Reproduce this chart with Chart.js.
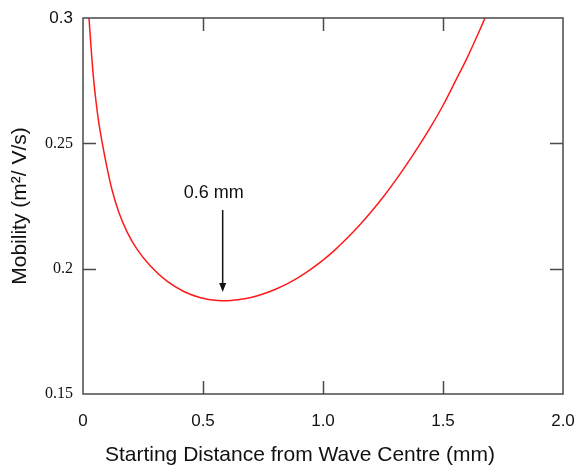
<!DOCTYPE html>
<html>
<head>
<meta charset="utf-8">
<script src="https://cdn.jsdelivr.net/npm/chart.js@4.4.0/dist/chart.umd.min.js"></script>
<style>
  html, body { margin: 0; padding: 0; background: #fff; }
</style>
</head>
<body>
<canvas id="chart" width="576" height="466"></canvas>
<script>
(function () {
  "use strict";

  // Starting distance (mm) vs mobility (m2/V/s)
  const distance = [0.025, 0.035, 0.045, 0.055, 0.065, 0.08, 0.1, 0.12, 0.15,
    0.185, 0.225, 0.28, 0.35, 0.42, 0.49, 0.56, 0.6, 0.65, 0.7, 0.75, 0.8,
    0.85, 0.9, 0.95, 1.0, 1.05, 1.1, 1.15, 1.2, 1.25, 1.3, 1.35, 1.4, 1.45,
    1.5, 1.55, 1.6, 1.65, 1.675];
  const mobility = [0.3000, 0.2863, 0.2748, 0.2660, 0.2588, 0.2503, 0.2403,
    0.2318, 0.2223, 0.2144, 0.2078, 0.2012, 0.1950, 0.1909, 0.1884, 0.1873,
    0.1872, 0.1877, 0.1885, 0.1899, 0.1917, 0.1939, 0.1966, 0.1998, 0.2034,
    0.2075, 0.2121, 0.2171, 0.2226, 0.2285, 0.2349, 0.2418, 0.2491, 0.2568,
    0.2651, 0.2745, 0.2840, 0.2945, 0.3000];

  const xTicks = [0, 0.5, 1.0, 1.5, 2.0];
  const yTicks = [0.15, 0.2, 0.25, 0.3];

  // annotation: minimum marker
  const minLabel = "0.6 mm";
  const minLabelAt = [0.545, 0.2302];
  const minArrowX = 0.582;
  const minArrowY = [0.2234, 0.1907];

  const xTitle = "Starting Distance from Wave Centre (mm)";
  const yTitle = "Mobility (m\u00B2/ V/s)";

  const SANS = "Arial, 'Liberation Sans', sans-serif";
  const SERIF = "'Times New Roman', 'Liberation Serif', serif";

  const frame = {
    id: "frame",
    afterDatasetsDraw(chart) {
      const ctx = chart.ctx;
      const a = chart.chartArea;
      const xs = chart.scales.x;
      const ys = chart.scales.y;
      const tl = 13;

      ctx.save();
      ctx.strokeStyle = "#4a4a4a";
      ctx.lineWidth = 1.5;
      ctx.strokeRect(a.left, a.top, a.right - a.left, a.bottom - a.top);

      ctx.beginPath();
      xTicks.slice(1, -1).forEach(function (v) {
        const px = Math.round(xs.getPixelForValue(v)) + 0.5;
        ctx.moveTo(px, a.bottom);
        ctx.lineTo(px, a.bottom - tl);
        ctx.moveTo(px, a.top);
        ctx.lineTo(px, a.top + tl);
      });
      yTicks.slice(1, -1).forEach(function (v) {
        const py = Math.round(ys.getPixelForValue(v)) + 0.5;
        ctx.moveTo(a.left, py);
        ctx.lineTo(a.left + tl, py);
        ctx.moveTo(a.right, py);
        ctx.lineTo(a.right - tl, py);
      });
      ctx.stroke();

      // arrow to the minimum
      const ax = xs.getPixelForValue(minArrowX);
      const ay0 = ys.getPixelForValue(minArrowY[0]);
      const ay1 = ys.getPixelForValue(minArrowY[1]);
      ctx.strokeStyle = "#111";
      ctx.fillStyle = "#111";
      ctx.lineWidth = 1.5;
      ctx.beginPath();
      ctx.moveTo(ax, ay0);
      ctx.lineTo(ax, ay1 - 6);
      ctx.stroke();
      ctx.beginPath();
      ctx.moveTo(ax - 3.5, ay1 - 9);
      ctx.lineTo(ax + 3.5, ay1 - 9);
      ctx.lineTo(ax, ay1);
      ctx.closePath();
      ctx.fill();

      ctx.font = "18px " + SANS;
      ctx.textAlign = "center";
      ctx.textBaseline = "middle";
      ctx.fillText(minLabel, xs.getPixelForValue(minLabelAt[0]), ys.getPixelForValue(minLabelAt[1]));

      // x axis title, centred a little left of the plot as in the figure
      ctx.font = "21px " + SANS;
      ctx.fillText(xTitle, 300, 455);
      ctx.restore();
    },
  };

  new Chart(document.getElementById("chart"), {
    type: "scatter",
    data: {
      datasets: [
        {
          data: distance.map(function (d, i) {
            return { x: d, y: mobility[i] };
          }),
          showLine: true,
          borderColor: "#ff1a1a",
          borderWidth: 1.5,
          pointRadius: 0,
          cubicInterpolationMode: "monotone",
        },
      ],
    },
    options: {
      responsive: false,
      animation: false,
      layout: { padding: { top: 18, right: 13, left: 0, bottom: 0 } },
      plugins: { legend: { display: false }, tooltip: { enabled: false } },
      scales: {
        x: {
          type: "linear",
          min: 0,
          max: 2,
          grid: { display: false, drawTicks: false },
          border: { display: false },
          afterBuildTicks: function (s) {
            s.ticks = xTicks.map(function (v) { return { value: v }; });
          },
          afterFit: function (s) {
            s.height = 72;
            s.paddingLeft = 0;
            s.paddingRight = 0;
          },
          ticks: {
            padding: 17,
            color: "#111",
            font: { family: SANS, size: 17 },
            callback: function (v) { return v === 0 ? "0" : v.toFixed(1); },
          },
        },
        y: {
          type: "linear",
          min: 0.15,
          max: 0.3,
          grid: { display: false, drawTicks: false },
          border: { display: false },
          afterBuildTicks: function (s) {
            s.ticks = yTicks.map(function (v) { return { value: v }; });
          },
          afterFit: function (s) {
            s.width = 83;
            s.paddingTop = 0;
            s.paddingBottom = 0;
          },
          ticks: {
            padding: 10,
            color: "#111",
            font: function (c) {
              if (c.tick && c.tick.value === 0.3) return { family: SANS, size: 17 };
              return { family: SERIF, size: 16 };
            },
            callback: function (v) { return String(v); },
          },
          title: {
            display: true,
            text: yTitle,
            color: "#111",
            font: { family: SANS, size: 21 },
            padding: { top: 8, bottom: 0 },
          },
        },
      },
    },
    plugins: [frame],
  });
})();
</script>
</body>
</html>
